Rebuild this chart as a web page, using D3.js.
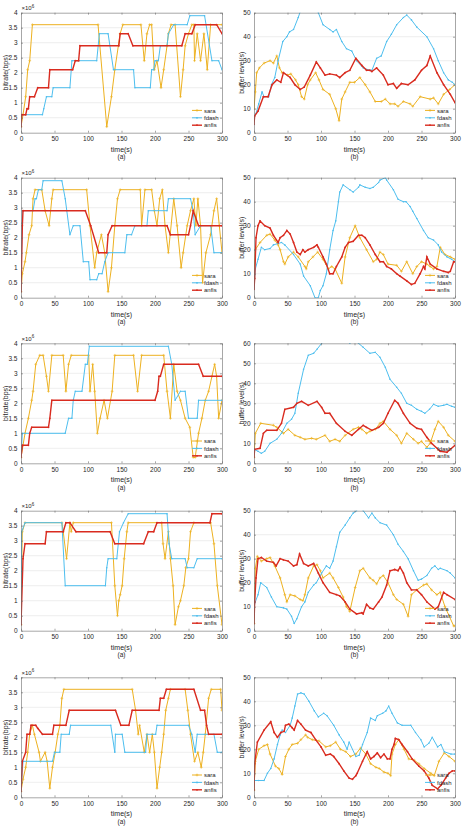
<!DOCTYPE html>
<html>
<head>
<meta charset="utf-8">
<script src="https://cdn.jsdelivr.net/npm/d3@7"></script>
<style>
  body { margin: 0; background: #fff; }
  svg { display: block; }
  text { font-family: "Liberation Sans", Arial, sans-serif; fill: #262626; }
</style>
</head>
<body>
<div id="viz"></div>
<script>
// time ticks and the y ticks of the two kinds of panel
var timeTicks = [0, 50, 100, 150, 200, 250, 300];
var rateTicks = [0, 0.5, 1, 1.5, 2, 2.5, 3, 3.5, 4];   // x 10^6 bps
var bufTicks50 = [0, 10, 20, 30, 40, 50];
var bufTicks60 = [0, 10, 20, 30, 40, 50, 60];
var seriesNames = ["sara", "fdash", "anfis"];
var seriesColors = ["#EDB120", "#4DBEEE", "#D92B1F"];

// ---- row 1 ----
var sara1a = [[0,0.2],[3,0.6],[7,1.2],[10,2.1],[13,2.4],[17,3.6],[115,3.6],[128,0.2],[135,1.2],[140,2.1],[148,3.3],[152,3.6],[179,3.6],[184,2.4],[188,3.3],[192,3.6],[195,3.6],[199,2.1],[203,2.4],[209,1.5],[213,2.1],[218,2.9],[220,3.3],[224,3.6],[230,3.6],[238,1.2],[242,2.1],[245,2.9],[250,3.3],[255,3.6],[258,3.6],[259,2.4],[263,3.3],[268,2.4],[273,3.3],[278,2.1],[283,3.6],[300,3.6]];
var fdash1a = [[0,0.2],[1,0.6],[32,0.6],[34,0.8],[38,1.2],[46,1.2],[48,1.5],[73,1.5],[76,2.4],[113,2.4],[117,3.3],[130,3.3],[138,2.1],[168,2.1],[170,1.5],[193,1.5],[195,2.1],[198,2.1],[200,2.4],[205,2.4],[208,2.9],[218,2.9],[220,3.3],[228,3.6],[248,3.6],[252,3.9],[274,3.9],[285,2.4],[295,2.4],[300,2.1]];
var anfis1a = [[0,0.2],[1,0.6],[7,0.6],[9,0.8],[11,0.8],[13,1.2],[20,1.2],[25,1.5],[41,1.5],[43,2.1],[77,2.1],[81,2.4],[86,2.4],[88,2.9],[146,2.9],[148,3.3],[160,3.3],[167,2.9],[240,2.9],[245,3.3],[255,3.3],[260,3.6],[292,3.6],[300,3.3]];

var sara1b = [[0,10],[2,17],[4,25],[8,27],[15,29],[24,30],[29,29],[34,32],[38,27],[42,25],[50,24],[55,24.5],[62,22],[66,20],[71,15],[75,14],[80,20],[84,22],[92,25],[97,22],[103,18],[113,16],[122,10],[127,5],[131,14],[136,17],[143,21],[150,21],[158,23],[166,20],[173,17],[181,13],[190,13],[196,14],[203,12],[210,12],[215,11],[223,13],[233,12],[237,11],[248,15],[263,14],[268,14.5],[275,12],[283,16],[292,18],[300,20]];
var fdash1b = [[0,7],[3,8],[7,12],[12,17],[15,15],[22,15],[26,20],[31,23],[36,30],[43,38],[49,40],[53,42],[59,43],[66,48],[71,52],[80,56],[88,55],[96,50],[103,45],[113,43],[118,42],[123,43],[131,38],[138,35],[146,34],[153,30],[163,27],[173,26],[176,26],[183,31],[190,32],[198,38],[205,41],[213,45],[223,48],[228,49],[235,47],[243,44],[258,40],[268,35],[275,30],[283,25],[290,22],[296,21],[300,20]];
var anfis1b = [[0,3.5],[1,7],[6,9],[14,15],[21,15],[27,20],[34,22],[40,21],[44,25],[54,23],[61,20],[69,18],[75,19],[84,24],[93,29.5],[99,27],[106,24],[113,24.5],[123,24],[128,23],[136,25],[143,26],[152,31],[161,28],[168,26],[173,26],[176,25.5],[183,27],[193,24],[200,20],[208,20.5],[213,18.5],[220,20.5],[230,20],[240,22],[250,26],[258,28],[263,32],[273,25],[283,20],[293,16],[300,12.5]];

// ---- row 2 ----
var sara2a = [[0,0.2],[2,0.8],[6,1.2],[8,1.5],[12,2.1],[16,2.4],[18,3.3],[21,3.6],[31,3.6],[36,2.9],[42,2.4],[46,3.3],[48,3.6],[98,3.6],[103,2.4],[110,1.0],[113,1.5],[120,2.1],[125,1.5],[130,0.2],[135,1.0],[140,2.4],[144,3.3],[148,3.6],[178,3.6],[180,2.4],[185,3.6],[195,3.6],[199,2.9],[203,2.4],[207,3.3],[211,3.6],[215,2.4],[220,1.5],[228,3.3],[233,2.4],[239,1.0],[242,1.5],[248,2.4],[253,2.9],[258,3.3],[261,2.4],[264,3.3],[268,2.4],[271,0.5],[276,1.5],[283,2.1],[288,2.9],[292,3.3],[296,2.4],[300,1.5]];
var fdash2a = [[0,0.2],[2,2.9],[18,2.9],[21,3.3],[23,3.3],[26,3.6],[31,3.6],[33,3.9],[61,3.9],[66,3.3],[73,2.1],[78,2.4],[88,2.4],[93,1.2],[101,1.2],[103,0.6],[113,0.6],[116,0.8],[121,0.8],[125,1.2],[130,1.5],[155,1.5],[158,2.1],[165,2.1],[170,2.4],[188,2.4],[190,2.9],[218,2.9],[220,3.3],[253,3.3],[257,2.9],[260,2.1],[268,2.4],[283,2.4],[288,1.5],[300,1.5]];
var anfis2a = [[0,0.2],[2,2.4],[3,2.9],[96,2.9],[104,2.4],[116,1.5],[128,1.5],[130,2.1],[136,2.4],[218,2.4],[223,2.1],[250,2.1],[253,2.4],[257,2.9],[265,2.4],[300,2.4]];

var sara2b = [[0,10],[2,20],[9,23],[19,26],[24,26.5],[31,24],[36,22],[39,20],[44,15],[46,14],[51,17],[59,19],[66,17],[76,13],[78,12],[81,15],[88,17],[95,19],[103,16],[111,12],[116,13],[121,12],[131,6],[136,17],[143,25],[151,30],[158,25],[168,20],[178,15],[183,16],[188,19],[193,18],[200,14],[213,13.5],[220,11],[228,15],[237,10],[243,13],[250,15],[258,14],[263,13],[268,12],[273,13],[278,21],[285,18],[293,17],[300,16]];
var fdash2b = [[0,4],[2,12],[6,16],[11,21],[16,20],[24,20.5],[29,22],[41,23],[46,22],[59,18],[69,14],[74,9],[84,5],[91,0],[96,0],[99,3],[103,5],[108,10],[113,20],[118,28],[122,32],[126,40],[128,44],[133,47],[143,45],[148,44],[156,46],[158,47],[166,46],[173,45.5],[178,46],[186,48],[188,49],[196,50],[198,49],[208,45],[215,41],[223,40],[227,40],[233,38],[237,36],[243,33],[253,28],[260,25],[268,24],[275,22],[280,19],[288,17],[295,16],[300,15]];
var anfis2b = [[0,3.5],[1,8],[3,25],[6,30],[9,32],[16,30],[24,29],[29,26],[36,23],[39,25],[44,26],[49,28],[54,26.5],[59,23],[64,19],[69,18],[73,20],[76,19],[81,20],[89,21],[94,22],[96,21],[103,17],[108,14],[113,10],[118,10],[123,13],[131,17],[136,21],[141,23],[148,23.5],[156,26],[161,26],[166,25],[173,22],[181,18],[188,15],[193,15],[198,13],[205,12],[213,10],[218,9],[228,7],[235,5.5],[240,6],[248,10],[253,13],[255,12],[258,17],[263,14],[273,12],[283,11],[290,10.5],[293,11],[298,15],[300,15]];

// ---- row 3 ----
var sara3a = [[0,0.2],[3,0.6],[6,1.0],[11,1.5],[16,2.1],[18,2.4],[22,3.3],[28,3.6],[33,3.6],[38,2.9],[41,2.4],[46,3.6],[63,3.6],[67,2.4],[71,3.3],[75,3.6],[101,3.6],[103,2.4],[107,3.3],[110,2.4],[114,1.0],[118,1.5],[124,2.1],[129,1.5],[136,2.4],[140,3.6],[168,3.6],[174,2.4],[180,3.6],[213,3.6],[218,2.4],[223,1.5],[228,3.3],[233,2.4],[238,2.1],[245,1.5],[252,1.2],[257,0.2],[260,0.2],[265,1.0],[270,1.5],[275,2.1],[280,2.4],[285,2.9],[289,3.3],[292,2.9],[295,1.5],[300,2.1]];
var fdash3a = [[0,0.2],[2,1.0],[66,1.0],[71,1.5],[76,1.5],[78,2.1],[81,2.4],[91,2.4],[96,3.3],[99,3.3],[102,3.9],[220,3.9],[225,3.3],[230,2.1],[238,2.4],[245,2.4],[250,1.5],[263,1.5],[265,2.1],[300,2.1]];
var anfis3a = [[0,0.2],[2,0.6],[11,0.6],[13,1.0],[16,1.2],[41,1.2],[43,1.5],[46,2.1],[200,2.1],[204,2.4],[206,2.9],[208,2.9],[213,3.3],[265,3.3],[272,2.9],[300,2.9]];

var sara3b = [[0,3],[2,15],[10,20],[29,19],[34,18],[44,15],[51,17],[61,14],[69,13],[76,12],[86,12.5],[93,12],[106,14],[113,11],[121,12],[128,11],[136,14],[148,17],[156,18],[161,17],[168,15],[173,16],[181,17],[188,20],[193,21],[203,17],[213,14],[220,10],[228,15],[238,12],[245,10],[250,11],[258,8],[263,10],[270,17],[275,21],[283,18],[290,14],[300,11]];
var fdash3b = [[0,7],[6,6],[11,5],[16,6],[24,10],[34,12],[41,15],[49,20],[56,22],[61,25],[66,35],[74,47],[81,54],[89,55],[94,57],[101,60],[108,63],[125,64],[138,62],[143,60],[148,62],[156,60],[163,58],[173,55],[181,55.5],[188,53],[196,48],[203,42],[213,38],[220,35],[228,30],[235,29],[243,27],[250,26],[255,25],[262,27],[268,29.5],[275,28.5],[283,29],[288,29.5],[295,28.5],[300,28]];
var anfis3b = [[0,3],[1,7],[9,7.5],[14,15],[19,16.5],[34,16.5],[41,20],[46,27],[59,28],[64,30],[71,31],[81,29],[94,31],[101,28],[106,25],[113,25],[123,20],[136,16],[146,14],[156,17],[163,19],[168,18],[176,16.5],[186,18],[193,20],[200,25],[210,31.5],[215,30],[223,25],[233,20],[243,17.5],[250,17],[258,13],[265,10],[278,6],[288,5.5],[300,9]];

// ---- row 4 ----
var sara4a = [[0,0.2],[1,2.1],[2,3.3],[6,3.6],[61,3.6],[63,3.3],[68,2.4],[73,3.6],[75,3.3],[78,3.6],[135,3.6],[140,1.5],[144,0.5],[146,1.0],[148,1.2],[151,1.5],[154,2.4],[158,3.3],[160,3.6],[210,3.6],[212,2.9],[215,2.4],[220,3.3],[223,2.4],[227,1.5],[230,0.2],[235,0.8],[238,1.0],[243,1.5],[246,2.1],[250,2.4],[253,3.3],[258,3.6],[283,3.6],[288,2.9],[293,1.5],[300,0.2]];
var fdash4a = [[0,0.2],[1,3.3],[6,3.6],[61,3.6],[66,1.5],[126,1.5],[128,2.1],[130,2.4],[143,2.4],[147,3.3],[153,3.6],[160,3.9],[218,3.9],[221,2.9],[225,2.4],[245,2.4],[248,2.1],[258,2.1],[263,2.4],[300,2.4]];
var anfis4a = [[0,0.2],[3,2.4],[6,2.9],[36,2.9],[38,3.3],[63,3.3],[67,3.6],[73,3.6],[82,3.3],[133,3.3],[140,2.9],[183,2.9],[190,3.3],[198,3.3],[203,3.6],[282,3.6],[285,3.9],[300,3.9]];

var sara4b = [[0,3],[2,26],[5,31],[11,29],[19,30],[24,30.5],[31,27],[39,22],[46,15],[49,12],[54,15],[61,14.5],[69,13],[73,12.5],[76,15],[81,22],[89,27],[94,27.5],[99,25],[103,22],[113,24],[118,22],[126,18],[133,14],[138,10],[143,8],[151,18],[158,25],[163,26],[173,22],[178,21],[183,19.5],[188,22],[193,23],[200,20],[208,15],[213,13],[223,11],[230,6],[235,15],[243,17],[253,19],[258,19.5],[265,17],[273,15],[278,16],[285,10],[298,2],[300,2]];
var fdash4b = [[0,10],[2,12],[6,15],[10,20],[19,18],[26,14],[34,10],[44,9.5],[49,9],[56,6],[60,3],[64,5],[71,10],[76,12],[81,16],[89,19],[93,20],[101,24],[108,27],[113,26],[118,29],[123,35],[128,41],[136,44],[143,47],[148,49],[153,50],[158,52],[163,50],[171,47],[176,49],[181,47],[188,45],[198,44],[208,40],[215,36],[223,33],[230,30],[238,25],[245,21],[250,21.5],[258,23],[265,26],[270,27],[275,25.5],[278,26],[288,25],[293,24],[300,22]];
var anfis4b = [[0,3],[1,12],[3,22],[6,30],[11,30.5],[19,29],[29,28.5],[33,27],[39,30],[44,29.5],[51,29],[59,27],[64,27.5],[68,32],[74,28],[81,27],[89,28],[96,24],[103,20],[113,16],[123,15],[128,14.5],[136,12],[143,9],[153,7],[161,7.5],[163,7],[168,11],[173,9.5],[178,9],[186,12],[191,14],[198,19],[203,25],[210,25.5],[215,25],[218,26.5],[223,24],[228,20],[235,17],[243,17],[250,15],[258,12],[270,9],[275,10],[283,16],[288,15],[300,13]];

// ---- row 5 ----
var sara5a = [[0,0.2],[3,0.6],[7,1.0],[10,1.5],[13,2.1],[17,2.4],[20,2.1],[27,1.5],[29,1.2],[36,1.5],[39,1.2],[43,0.3],[47,1.0],[51,1.5],[55,2.1],[58,2.4],[61,3.3],[64,3.6],[166,3.6],[171,2.9],[175,2.1],[177,2.4],[184,1.5],[188,2.1],[192,1.5],[196,2.1],[199,1.5],[203,0.3],[207,1.0],[210,1.5],[213,2.1],[216,2.9],[220,3.3],[223,3.6],[245,3.6],[249,2.9],[253,2.1],[259,1.2],[264,1.5],[269,1.0],[272,1.5],[275,2.1],[280,3.3],[284,3.6],[298,3.6],[300,2.9]];
var fdash5a = [[0,0.2],[3,1.2],[47,1.2],[50,1.5],[58,1.5],[60,2.1],[72,2.1],[74,2.4],[134,2.4],[140,1.5],[141,2.1],[151,2.1],[155,1.5],[186,1.5],[188,2.1],[201,2.1],[203,2.4],[250,2.4],[255,2.1],[260,1.5],[263,2.1],[288,2.1],[293,1.5],[300,1.5]];
var anfis5a = [[0,0.2],[2,1.2],[7,1.5],[9,2.1],[13,2.1],[15,2.4],[22,2.4],[25,2.3],[32,2.1],[47,2.1],[49,2.4],[67,2.4],[72,2.9],[141,2.9],[149,2.4],[161,2.4],[166,2.9],[206,2.9],[208,3.3],[213,3.3],[217,3.6],[258,3.6],[268,2.9],[274,2.9],[277,2.4],[280,2.1],[300,2.1]];

var sara5b = [[0,3],[2,15],[7,20],[15,21.5],[20,22],[24,18],[32,13],[37,12],[42,9.5],[47,17],[52,20],[57,22],[65,22.5],[70,24],[77,26],[80,25],[87,24],[97,23.5],[107,21],[114,21.5],[122,23],[129,20],[137,19],[144,17],[152,18],[159,20.5],[167,18],[174,14],[182,12.5],[187,12],[194,10.5],[200,10],[204,9],[206,18],[211,22],[216,24],[224,20],[231,16],[239,15.5],[246,14],[254,12],[264,10],[269,9],[276,15],[284,18.5],[291,17],[300,15]];
var fdash5b = [[0,7],[7,7],[15,7],[20,10],[25,12],[30,16],[35,22],[39,26],[42,28],[47,27],[54,30],[57,33],[61,38],[65,43],[70,43.5],[75,43],[82,40],[90,36],[96,33.5],[104,35],[109,34],[119,30],[127,26],[134,23],[139,20],[142,23],[152,17],[157,17.5],[162,22],[169,27],[174,33],[181,32],[184,34],[192,35],[197,36],[201,38],[206,35],[214,31],[221,30],[234,30],[241,27],[249,24],[254,21],[261,22.5],[266,25],[274,21],[279,22],[284,19],[294,18],[300,18]];
var anfis5b = [[0,3],[1,14],[5,23],[15,28],[25,31.5],[30,27],[35,25],[40,27],[45,27.5],[47,30],[52,30.5],[57,29],[60,28],[65,32],[70,30.5],[77,28],[85,27],[92,24],[100,21],[107,17.5],[114,18],[119,17],[127,14],[134,11],[142,8],[147,7.5],[152,9],[154,10],[162,15],[169,19],[174,16],[179,17],[184,18.5],[189,16.5],[194,18],[199,16],[203,16],[206,20],[209,22],[211,24.5],[216,24],[221,22],[229,19],[236,16],[246,13],[254,11],[261,8],[266,5],[274,3.5],[279,5],[286,8],[291,10],[296,11],[300,11]];

var W = 463, H = 829;
var rowTops = [12.7, 177.7, 343.3, 510.7, 677.3];
var plotH = 120;
var colLeft = [21, 254], plotW = 201;

var panels = [
  [sara1a, fdash1a, anfis1a], [sara1b, fdash1b, anfis1b],
  [sara2a, fdash2a, anfis2a], [sara2b, fdash2b, anfis2b],
  [sara3a, fdash3a, anfis3a], [sara3b, fdash3b, anfis3b],
  [sara4a, fdash4a, anfis4a], [sara4b, fdash4b, anfis4b],
  [sara5a, fdash5a, anfis5a], [sara5b, fdash5b, anfis5b]
];

var svg = d3.select("#viz").append("svg")
  .attr("width", W)
  .attr("height", H);

panels.forEach(function(series, i) {
  var row = Math.floor(i / 2), col = i % 2;
  var isRate = col == 0;
  var ticks = isRate ? rateTicks : (row == 2 ? bufTicks60 : bufTicks50);
  var ymax = ticks[ticks.length - 1];

  var x = d3.scaleLinear().domain([0, 300]).range([0, plotW]);
  var y = d3.scaleLinear().domain([0, ymax]).range([plotH, 0]);

  var g = svg.append("g")
    .attr("transform", "translate(" + colLeft[col] + "," + rowTops[row] + ")");

  // grid
  g.selectAll(".grid").data(ticks.slice(1, -1)).enter().append("line")
    .attr("x1", 0).attr("x2", plotW)
    .attr("y1", function(d) { return y(d); })
    .attr("y2", function(d) { return y(d); })
    .style("stroke", "#e3e3e3")
    .style("stroke-width", 0.6);

  var clipId = "clip" + i;
  g.append("clipPath").attr("id", clipId).append("rect")
    .attr("width", plotW).attr("height", plotH);

  var line = d3.line()
    .x(function(d) { return x(d[0]); })
    .y(function(d) { return y(d[1]); });

  var lines = g.append("g").attr("clip-path", "url(#" + clipId + ")");
  series.forEach(function(data, k) {
    lines.append("path")
      .datum(data)
      .attr("d", line)
      .style("fill", "none")
      .style("stroke", seriesColors[k])
      .style("stroke-width", k == 2 ? 1.4 : 1.0);
    var pts = lines.selectAll(".m" + k).data(data).enter();
    if (k == 0) {
      pts.append("path")
        .attr("d", function(d) {
          var px = x(d[0]), py = y(d[1]);
          return "M" + (px - 1.4) + "," + py + "h2.8M" + px + "," + (py - 1.4) + "v2.8";
        })
        .style("stroke", seriesColors[k])
        .style("stroke-width", 0.6);
    } else {
      pts.append("circle")
        .attr("cx", function(d) { return x(d[0]); })
        .attr("cy", function(d) { return y(d[1]); })
        .attr("r", k == 2 ? 0.9 : 0.8)
        .style("fill", seriesColors[k]);
    }
  });

  // axes (ticks inside, box on)
  var fmt = d3.format("~g");
  var axB = g.append("g").attr("transform", "translate(0," + plotH + ")")
    .call(d3.axisBottom(x).tickValues(timeTicks).tickSizeInner(-2).tickSizeOuter(0).tickPadding(4).tickFormat(fmt));
  var axL = g.append("g")
    .call(d3.axisLeft(y).tickValues(ticks).tickSizeInner(-2).tickSizeOuter(0).tickPadding(3.5).tickFormat(fmt));
  var axT = g.append("g")
    .call(d3.axisTop(x).tickValues(timeTicks).tickSizeInner(-2).tickSizeOuter(0).tickFormat(""));
  var axR = g.append("g").attr("transform", "translate(" + plotW + ",0)")
    .call(d3.axisRight(y).tickValues(ticks).tickSizeInner(-2).tickSizeOuter(0).tickFormat(""));
  [axB, axL, axT, axR].forEach(function(a) {
    a.selectAll("path, line").style("stroke", "#6b6b6b").style("stroke-width", 0.6);
    a.selectAll("text").style("font-size", "6.5px").style("fill", "#262626")
      .style("font-family", "'Liberation Sans', Arial, sans-serif");
  });

  // labels
  g.append("text")
    .attr("x", plotW / 2).attr("y", plotH + 19)
    .attr("text-anchor", "middle")
    .style("font-size", "7px")
    .text("time(s)");
  g.append("text")
    .attr("x", plotW / 2).attr("y", plotH + 26.3)
    .attr("text-anchor", "middle")
    .style("font-size", "6.5px")
    .text(isRate ? "(a)" : "(b)");
  g.append("text")
    .attr("transform", "translate(" + (isRate ? -15.5 : -12.3) + "," + (plotH / 2) + ") rotate(-90)")
    .attr("text-anchor", "middle")
    .attr("dy", "0.35em")
    .style("font-size", "7px")
    .text(isRate ? "bitrate(bps)" : "buffer level(s)");

  if (isRate) {
    var ex = g.append("text")
      .attr("x", 0.5).attr("y", -2.5)
      .style("font-size", "6px");
    ex.append("tspan").text("\u00d710");
    ex.append("tspan").attr("dy", -2.5).style("font-size", "4.5px").text("6");
  }

  // legend
  var lg = g.append("g").attr("transform", "translate(" + (plotW - 30) + "," + (plotH - 22.3) + ")");
  seriesNames.forEach(function(name, k) {
    var ly = k * 7.4;
    lg.append("line")
      .attr("x1", 0).attr("x2", 10).attr("y1", ly).attr("y2", ly)
      .style("stroke", seriesColors[k])
      .style("stroke-width", k == 2 ? 1.4 : 1.0);
    if (k == 0) {
      lg.append("path").attr("d", "M3.6," + ly + "h2.8M5," + (ly - 1.4) + "v2.8")
        .style("stroke", seriesColors[k]).style("stroke-width", 0.6);
    } else {
      lg.append("circle").attr("cx", 5).attr("cy", ly).attr("r", 0.9).style("fill", seriesColors[k]);
    }
    lg.append("text")
      .attr("x", 12).attr("y", ly)
      .attr("dy", "0.35em")
      .style("font-size", "6px")
      .text(name);
  });
});
</script>
</body>
</html>
